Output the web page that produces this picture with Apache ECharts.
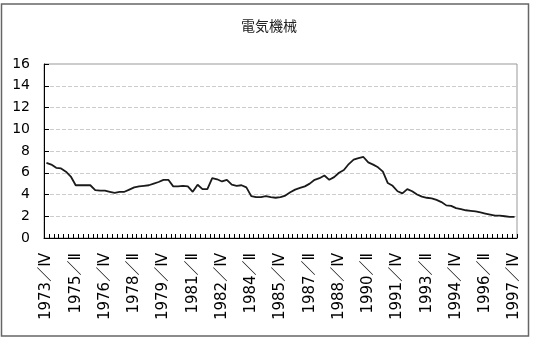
<!DOCTYPE html>
<html>
<head>
<meta charset="utf-8">
<script src="https://cdn.jsdelivr.net/npm/echarts@6/dist/echarts.min.js"></script>
<style>
  html, body { margin: 0; padding: 0; background: #fff; }
  #chart { width: 534px; height: 347px; }
</style>
</head>
<body>
<div id="chart"></div>
<script>
    'use strict';

    var titleText = '電気機械';
    var quarterNames = ['Ⅰ', 'Ⅱ', 'Ⅲ', 'Ⅳ'];
    var firstYear = 1973, firstQuarter = 4, lastYear = 1997, lastQuarter = 4;
    var yTicks = [0, 2, 4, 6, 8, 10, 12, 14, 16];

    // 1973/IV .. 1997/IV, one value per quarter
    var values = [
        6.9, 6.75, 6.45, 6.4, 6.1, 5.65, 4.85, 4.85, 4.85, 4.85,
        4.4, 4.35, 4.35, 4.25, 4.15, 4.25, 4.25, 4.45, 4.65, 4.75,
        4.8, 4.85, 5.0, 5.15, 5.35, 5.35, 4.75, 4.75, 4.8, 4.75,
        4.25, 4.9, 4.5, 4.5, 5.5, 5.4, 5.2, 5.35, 4.9, 4.8,
        4.85, 4.65, 3.85, 3.75, 3.75, 3.85, 3.75, 3.7, 3.75, 3.9,
        4.2, 4.45, 4.6, 4.75, 5.0, 5.35, 5.5, 5.75, 5.35, 5.6,
        6.0, 6.25, 6.8, 7.2, 7.35, 7.45, 6.95, 6.75, 6.5, 6.1,
        5.05, 4.8, 4.3, 4.1, 4.5, 4.3, 4.0, 3.8, 3.7, 3.65,
        3.5, 3.3, 3.0, 2.95, 2.75, 2.65, 2.55, 2.5, 2.45, 2.35,
        2.25, 2.15, 2.05, 2.05, 2.0, 1.95, 1.95
    ];

    var categories = [];
    for (var y = firstYear; y <= lastYear; y++) {
        for (var q = 1; q <= 4; q++) {
            if (y === firstYear && q < firstQuarter) continue;
            if (y === lastYear && q > lastQuarter) continue;
            categories.push(y + '／' + quarterNames[q - 1]);
        }
    }

    var myChart = echarts.init(document.getElementById('chart'));
    var option = {
        animation: false,
        textStyle: { fontFamily: 'DejaVu Sans, Noto Sans CJK JP' },
        title: {
            text: titleText,
            left: 264,
            top: 14,
            textAlign: 'center',
            textStyle: { fontSize: 14, fontWeight: 'normal', color: '#222', fontFamily: 'Noto Sans CJK JP' }
        },
        graphic: [{
            type: 'rect',
            shape: { x: 1.5, y: 4, width: 527, height: 332 },
            style: { fill: 'none', stroke: '#666', lineWidth: 1.5 },
            silent: true
        }],
        grid: {
            left: 44, right: 17, top: 64, bottom: 109,
            show: true, borderColor: '#999', borderWidth: 1
        },
        xAxis: {
            type: 'category',
            data: categories,
            boundaryGap: true,
            axisLine: { lineStyle: { color: '#000', width: 1 } },
            axisTick: { show: true, inside: true, length: 4, interval: 0, lineStyle: { color: '#000' } },
            axisLabel: {
                interval: 5, rotate: 90, margin: 15, fontSize: 15, color: '#000',
                fontFamily: 'DejaVu Sans, Noto Sans CJK JP'
            },
            splitLine: { show: false }
        },
        yAxis: {
            type: 'value',
            min: yTicks[0],
            max: yTicks[yTicks.length - 1],
            interval: yTicks[1] - yTicks[0],
            axisLine: { show: true, lineStyle: { color: '#000', width: 1 } },
            axisTick: { show: true, inside: true, length: 5, lineStyle: { color: '#000' } },
            axisLabel: { margin: 14, fontSize: 14, color: '#000' },
            splitLine: { show: true, lineStyle: { color: '#ccc', type: 'dashed', width: 1 } }
        },
        series: [{
            type: 'line',
            data: values,
            showSymbol: false,
            lineStyle: { color: '#1a1a1a', width: 1.8 }
        }]
    };
    myChart.setOption(option);
</script>
</body>
</html>
